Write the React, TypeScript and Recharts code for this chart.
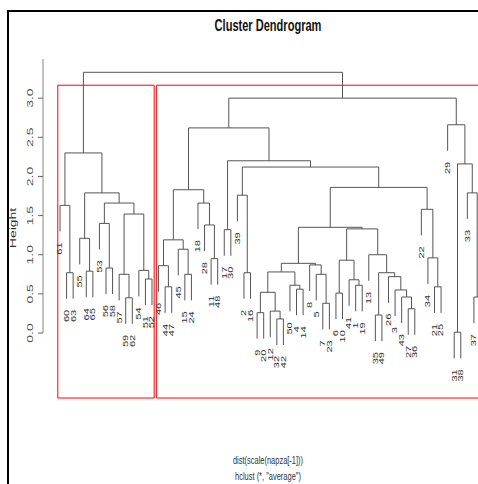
import React from 'react';
import { ComposedChart, Line, Scatter, XAxis, YAxis, ReferenceArea, ReferenceLine } from 'recharts';

// leaf labels, left to right as plotted
const leafOrder = [
  61, 60, 63, 55, 64, 65, 53, 56, 58, 57, 59, 62, 54, 51, 52,
  46, 44, 47, 45, 15, 24, 18, 28, 11, 48,
  17, 30, 39, 2, 16,
  9, 20, 12, 32, 42, 50, 4, 14, 8, 5, 7, 23,
  6, 10, 41, 1, 19, 13, 35, 49, 26, 3, 43, 27, 36,
  22, 34, 21, 25,
  29, 31, 38, 33, 37, 40,
];

// hclust style merge table: negative = leaf label, positive = earlier row (1-based), then height
const merges: [number, number, number][] = [
  [-60, -63, 0.77], [-61, 1, 1.63], [-64, -65, 0.79], [-55, 3, 1.21],
  [-56, -58, 0.83], [-53, 5, 1.4], [-59, -62, 0.45], [-57, 7, 0.75],
  [-51, -52, 0.69], [-54, 9, 0.8], [8, 10, 1.52], [6, 11, 1.66],
  [4, 12, 1.79], [2, 13, 2.3],
  [-44, -47, 0.59], [-46, 15, 0.86], [-15, -24, 0.75], [-45, 17, 1.07],
  [16, 18, 1.19], [-11, -48, 0.95], [-28, 20, 1.38], [-18, 21, 1.66],
  [19, 22, 1.83], [-17, -30, 1.32], [-2, -16, 0.77], [-39, 25, 1.76],
  [-9, -20, 0.26], [-32, -42, 0.18], [-12, 28, 0.28], [27, 29, 0.52],
  [-4, -14, 0.56], [-50, 31, 0.61], [30, 32, 0.78], [-7, -23, 0.38],
  [-5, 34, 0.75], [-8, 35, 0.87], [33, 36, 0.89], [-6, -10, 0.51],
  [-1, -19, 0.61], [-41, 39, 0.68], [38, 40, 0.93], [-35, -49, 0.23],
  [-27, -36, 0.31], [-43, 43, 0.46], [-3, 44, 0.55], [-26, 45, 0.72],
  [42, 46, 0.77], [-13, 47, 1.0], [41, 48, 1.33], [37, 49, 1.35],
  [-21, -25, 0.59], [-34, 51, 0.96], [-22, 52, 1.58], [50, 53, 1.86],
  [26, 54, 2.12], [24, 55, 2.2], [23, 56, 2.62],
  [-31, -38, 0.01], [-37, -40, 0.46], [-33, 59, 1.79], [58, 60, 2.16],
  [-29, 61, 2.66], [57, 62, 3.0], [14, 63, 3.33],
];

const clusterSizes = [15, 50];
const yTicks = [0, 0.5, 1, 1.5, 2, 2.5, 3];
const hangFrac = 0.1;

const font = 'Liberation Sans, Arial, sans-serif';

const maxHeight = Math.max(...merges.map((m) => m[2]));
const hangH = hangFrac * maxHeight;
const leafX = (label: number) => leafOrder.indexOf(label) + 1;

const nodeX: number[] = [];
const links = merges.map(([a, b, h], i) => {
  const end = (c: number) =>
    c < 0 ? { x: leafX(-c), y: h - hangH } : { x: nodeX[c - 1], y: merges[c - 1][2] };
  const pa = end(a);
  const pb = end(b);
  nodeX[i] = (pa.x + pb.x) / 2;
  return [pa, { x: pa.x, y: h }, { x: pb.x, y: h }, pb];
});

const leaves = merges.flatMap(([a, b, h]) =>
  [a, b].filter((c) => c < 0).map((c) => ({ x: leafX(-c), y: h - hangH, label: String(-c) }))
);

// rect.hclust(k = 2)
const topHeights = merges.map((m) => m[2]).sort((p, q) => q - p);
const cutHeight = (topHeights[0] + topHeights[1]) / 2;
const bounds = clusterSizes.reduce((acc, n) => [...acc, acc[acc.length - 1] + n], [0]);
const rects = clusterSizes.map((_, i) => ({ x1: bounds[i] + 0.66, x2: bounds[i + 1] + 0.33 }));

const Y_MIN = -0.83;
const Y_MAX = 3.5;
const X_MIN = -1.59;
const X_MAX = 67.97;

const YTick = (props: any) => {
  const { y, payload } = props;
  return (
    <text
      transform={`translate(33 ${y}) scale(0.65 1) rotate(-90)`}
      textAnchor="middle"
      fontSize={14}
      fill="#555"
      fontFamily={font}
    >
      {Number(payload.value).toFixed(1)}
    </text>
  );
};

const LeafLabel = (props: any) => {
  const { cx, cy, payload } = props;
  return (
    <text
      transform={`translate(${cx + 2.4} ${cy + 11}) scale(0.65 1) rotate(-90)`}
      textAnchor="end"
      fontSize={11}
      fill="#333"
      fontFamily={font}
    >
      {payload.label}
    </text>
  );
};

export default function App() {
  return (
    <div style={{ position: 'absolute', left: 0, top: 0, width: 478, height: 484, overflow: 'hidden', background: '#fff' }}>
      <div
        style={{
          position: 'absolute', left: 7, top: 10, width: 600, height: 600,
          borderLeft: '2px solid #000', borderTop: '2px solid #000',
        }}
      />
      <div style={{ position: 'absolute', left: 0, top: 0 }}>
        <ComposedChart width={520} height={484} margin={{ top: 59, right: 20, bottom: 86, left: 0 }}>
          <XAxis type="number" dataKey="x" domain={[X_MIN, X_MAX]} hide />
          <YAxis
            type="number"
            dataKey="y"
            domain={[Y_MIN, Y_MAX]}
            ticks={yTicks}
            interval={0}
            width={43}
            axisLine={false}
            tickSize={5}
            tickLine={{ stroke: '#666' }}
            tick={<YTick />}
          />
          <ReferenceLine
            segment={[{ x: X_MIN, y: 0 }, { x: X_MIN, y: Y_MAX }]}
            stroke="#888"
            ifOverflow="visible"
          />
          {links.map((pts, i) => (
            <Line
              key={i}
              data={pts}
              dataKey="y"
              type="linear"
              stroke="#555"
              strokeWidth={1}
              dot={false}
              activeDot={false}
              isAnimationActive={false}
            />
          ))}
          <Scatter data={leaves} dataKey="y" shape={<LeafLabel />} isAnimationActive={false} />
          {rects.map((r, i) => (
            <ReferenceArea
              key={i}
              x1={r.x1}
              x2={r.x2}
              y1={Y_MIN}
              y2={cutHeight}
              fill="none"
              fillOpacity={0}
              stroke="#ff0000"
              strokeWidth={1}
              ifOverflow="visible"
            />
          ))}
        </ComposedChart>
      </div>
      <svg width={478} height={484} style={{ position: 'absolute', left: 0, top: 0, pointerEvents: 'none' }}>
        <text transform="translate(268 31) scale(0.65 1)" textAnchor="middle" fontSize={17} fontWeight="bold" fill="#111" fontFamily={font}>
          Cluster Dendrogram
        </text>
        <text transform="translate(16 228) scale(0.65 1) rotate(-90)" textAnchor="middle" fontSize={14} fill="#333" fontFamily={font}>
          Height
        </text>
        <text transform="translate(268 464) scale(0.65 1)" textAnchor="middle" fontSize={11.5} fill="#333" fontFamily={font}>
          dist(scale(napza[-1]))
        </text>
        <text transform="translate(268 480) scale(0.65 1)" textAnchor="middle" fontSize={11.5} fill="#333" fontFamily={font}>
          hclust (*, "average")
        </text>
      </svg>
    </div>
  );
}
